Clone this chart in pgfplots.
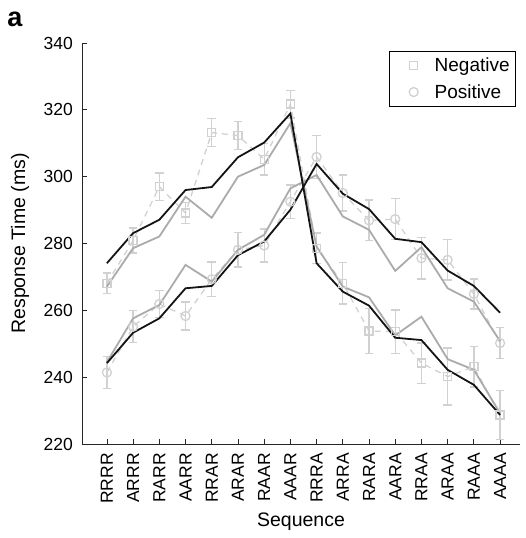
\documentclass[border=0pt]{standalone}
\usepackage{fontspec}
\setmainfont{Liberation Sans}
\usepackage{pgfplots}
\usepackage{pgfplotstable}
\pgfplotsset{compat=1.18}
\definecolor{lightg}{gray}{0.82}
\definecolor{midg}{gray}{0.67}
\definecolor{axc}{gray}{0.15}

\pgfplotstableread{
x y e
1 268.1 3.1
2 280.9 3.7
3 297.0 4.1
4 289.1 3.2
5 313.2 4.2
6 312.3 4.2
7 305.2 4.7
8 321.7 4.1
9 278.6 4.5
10 268.1 6.2
11 253.8 6.7
12 253.6 6.5
13 244.2 6.0
14 240.2 8.5
15 243.1 6.0
16 228.7 7.4
}\negdata

\pgfplotstableread{
x y e
1 241.4 4.7
2 255.1 4.8
3 261.9 4.0
4 258.3 4.2
5 269.3 5.2
6 278.1 5.1
7 279.4 4.9
8 292.5 5.0
9 305.9 6.5
10 295.1 5.4
11 286.9 6.1
12 287.3 6.2
13 275.6 6.2
14 275.1 6.0
15 264.9 4.5
16 250.2 4.6
}\posdata

\pgfplotstableread{
x y
1 267.1
2 278.6
3 282.1
4 294.0
5 287.7
6 300.0
7 303.5
8 316.0
9 279.1
10 267.1
11 263.9
12 252.5
13 258.1
14 245.4
15 242.2
16 229.2
}\neggray

\pgfplotstableread{
x y
1 244.5
2 257.6
3 261.6
4 273.6
5 268.6
6 278.1
7 282.6
8 296.5
9 300.5
10 288.1
11 284.1
12 271.8
13 278.9
14 266.6
15 262.6
16 250.8
}\posgray

\pgfplotstableread{
x y
1 274.1
2 283.1
3 287.1
4 296.0
5 296.9
6 305.8
7 310.2
8 318.9
9 274.1
10 265.6
11 261.4
12 251.8
13 251.1
14 242.2
15 237.7
16 228.7
}\negblack

\pgfplotstableread{
x y
1 244.2
2 253.3
3 257.6
4 266.6
5 267.3
6 276.5
7 280.6
8 290.1
9 303.8
10 294.9
11 290.3
12 281.4
13 280.4
14 271.9
15 267.3
16 259.3
}\posblack

\begin{document}
\begin{tikzpicture}
\begin{axis}[
  scale only axis, width=438pt, height=401pt,
  xmin=0.05, xmax=16.76, ymin=220, ymax=340,
  axis x line*=bottom, axis y line*=left,
  axis line style={axc, line width=0.8pt},
  xtick={1,...,16},
  xticklabels={RRRR,ARRR,RARR,AARR,RRAR,ARAR,RAAR,AAAR,RRRA,ARRA,RARA,AARA,RRAA,ARAA,RAAA,AAAA},
  ytick={220,240,...,340},
  tick align=inside, major tick length=5pt,
  tick style={axc, line width=0.8pt},
  /pgf/number format/assume math mode=true,
  xticklabel style={rotate=90, anchor=east, inner sep=0pt, font=\fontsize{17.5}{20}\selectfont},
  xticklabel shift=9pt,
  yticklabel style={anchor=east, inner sep=0pt, font=\fontsize{17.5}{20}\selectfont},
  yticklabel shift=9pt,
  xlabel={Sequence},
  xlabel style={at={(axis description cs:0.5,-0.1945)}, anchor=center, font=\fontsize{19.5}{22}\selectfont},
  ylabel={Response Time (ms)},
  ylabel style={at={(axis description cs:-0.1416,0.5)}, anchor=center, font=\fontsize{19.5}{22}\selectfont},
  legend style={at={(axis description cs:0.991,0.981)}, anchor=north east,
    draw=black, line width=0.8pt, font=\fontsize{19}{22}\selectfont,
    inner xsep=6pt, inner ysep=1pt, column sep=7pt,
    nodes={inner sep=0pt, draw=none}, cells={anchor=west}},
  legend image code/.code={\path[draw=none] (0pt,-13.35pt) rectangle (32pt,13.35pt); \draw[#1] plot coordinates {(18pt,0pt)};},
  clip=false,
]
% data, dashed connecting lines
\addplot[lightg, line width=1.3pt, dash pattern=on 6pt off 5pt, forget plot] table[x=x,y=y] \negdata;
\addplot[lightg, line width=1.3pt, dash pattern=on 6pt off 5pt, forget plot] table[x=x,y=y] \posdata;
% markers with error bars
\addplot[lightg, only marks, mark=square, mark size=4pt, mark options={line width=1.3pt, solid},
  error bars/.cd, y dir=both, y explicit,
  error bar style={line width=1.3pt, lightg},
  error mark options={rotate=90, mark size=4.3pt, line width=1.3pt, lightg}]
  table[x=x, y=y, y error=e] \negdata;
\addlegendentry{Negative}
\addplot[lightg, only marks, mark=o, mark size=4.5pt, mark options={line width=1.3pt, solid},
  error bars/.cd, y dir=both, y explicit,
  error bar style={line width=1.3pt, lightg},
  error mark options={rotate=90, mark size=4.3pt, line width=1.3pt, lightg}]
  table[x=x, y=y, y error=e] \posdata;
\addlegendentry{Positive}
% model lines
\addplot[midg, line width=1.8pt, no marks, forget plot] table[x=x,y=y] \neggray;
\addplot[midg, line width=1.8pt, no marks, forget plot] table[x=x,y=y] \posgray;
\addplot[black!92, line width=1.8pt, no marks, forget plot] table[x=x,y=y] \negblack;
\addplot[black!92, line width=1.8pt, no marks, forget plot] table[x=x,y=y] \posblack;
\node[anchor=base west, inner sep=0pt, font=\bfseries\fontsize{27}{30}\selectfont] at (axis description cs:-0.171,1.04) {a};
\coordinate (bl) at (rel axis cs:0,0);
\end{axis}
\pgfresetboundingbox
\path[use as bounding box] ([shift={(-82pt,-94pt)}]bl) rectangle ([shift={(444pt,444pt)}]bl);
\end{tikzpicture}
\end{document}
